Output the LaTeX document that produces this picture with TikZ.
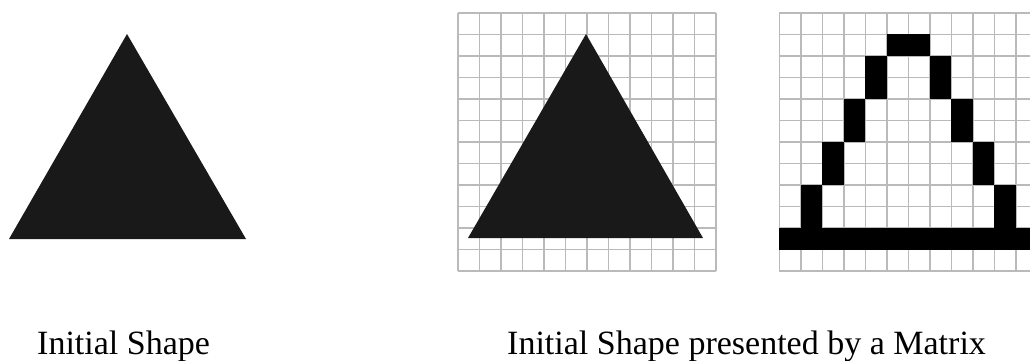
\documentclass[tikz,border=0pt]{standalone}
\usepackage{fontspec}
\setmainfont{Liberation Serif}
\begin{document}
\begin{tikzpicture}[x=1pt,y=-1pt,
  gridline/.style={draw=black!27,line width=1.6pt},
  solidtri/.style={fill=black!90,draw=none},
  cellfill/.style={fill=black,draw=none},
  caption/.style={anchor=base west,inner sep=0pt,font=\fontsize{34}{40}\selectfont}]
\useasboundingbox (0,0) rectangle (1030,361);
\clip (0,0) rectangle (1030,361);
% left triangle
\fill[solidtri] (127,34) -- (9,239) -- (246,239) -- cycle;
% grid 1
\foreach \i in {0,...,12} {
  \draw[gridline] ({458+21.5*\i},13) -- ({458+21.5*\i},271);
  \draw[gridline] (458,{13+21.5*\i}) -- (716,{13+21.5*\i});
}
\fill[solidtri] (586,34) -- (468,238) -- (703,238) -- cycle;
% grid 2
\foreach \i in {0,...,12} {
  \draw[gridline] ({779.3+21.5*\i},13) -- ({779.3+21.5*\i},271);
  \draw[gridline] (779.3,{13+21.5*\i}) -- (1037.3,{13+21.5*\i});
}
\def\cell#1#2{\fill[cellfill] ({779.3+21.5*#1},{13+21.5*#2}) rectangle ++(21.5,21.5);}
\cell{5}{1}\cell{6}{1}
\cell{4}{2}\cell{4}{3}\cell{7}{2}\cell{7}{3}
\cell{3}{4}\cell{3}{5}\cell{8}{4}\cell{8}{5}
\cell{2}{6}\cell{2}{7}\cell{9}{6}\cell{9}{7}
\cell{1}{8}\cell{1}{9}\cell{10}{8}\cell{10}{9}
\foreach \c in {0,...,11} {\cell{\c}{10}}
% captions
\node[caption] (cap1) at (37,354) {Initial Shape};
\node[caption] (cap2) at (507,354) {Initial Shape presented by a Matrix};
\end{tikzpicture}
\end{document}
